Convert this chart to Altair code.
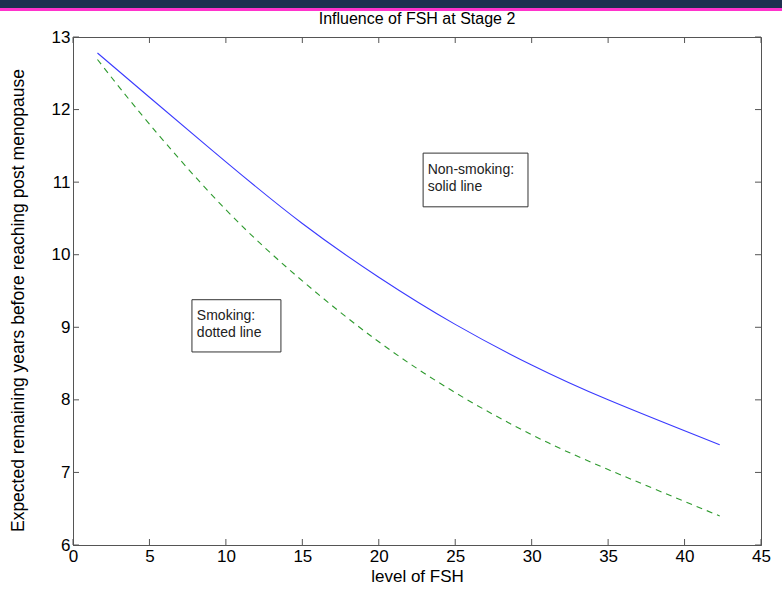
import altair as alt
import pandas as pd

# Data
fsh_x = [1.6, 5, 10, 15, 20, 25, 30, 35, 42.3]
nonsmoking = [12.78, 12.17, 11.28, 10.43, 9.69, 9.04, 8.48, 8.00, 7.38]
smoking = [12.69, 11.80, 10.62, 9.64, 8.80, 8.10, 7.52, 7.04, 6.40]
x_ticks = [0, 5, 10, 15, 20, 25, 30, 35, 40, 45]
y_ticks = [6, 7, 8, 9, 10, 11, 12, 13]

W, H = 688, 508
FONT = "Liberation Sans"

xs = alt.Scale(domain=[0, 45], nice=False, zero=False)
ys = alt.Scale(domain=[6, 13], nice=False, zero=False)

df_ns = pd.DataFrame({"x": fsh_x, "y": nonsmoking})
df_s = pd.DataFrame({"x": fsh_x, "y": smoking})

base_x = alt.X("x:Q", scale=xs, axis=alt.Axis(
    values=x_ticks, format="d", title="level of FSH", tickSize=0, labelPadding=3,
    labelFontSize=17, titleFontSize=17, titlePadding=4, labelFont=FONT, titleFont=FONT,
    labelColor="black", titleColor="black", titleFontWeight="normal",
    domainColor="#555555", grid=False, labelFlush=False))
base_y = alt.Y("y:Q", scale=ys, axis=alt.Axis(
    values=y_ticks, format="d", title="Expected remaining years before reaching post menopause",
    tickSize=0, labelPadding=3, labelFontSize=17, titleFontSize=17.5, titlePadding=24,
    titleY=263,
    labelFont=FONT, titleFont=FONT, labelColor="black", titleColor="black",
    titleFontWeight="normal", domainColor="#555555", grid=False, labelFlush=False))

line_ns = alt.Chart(df_ns).mark_line(color="#3a3aff", strokeWidth=1.1, interpolate="natural").encode(
    x=base_x, y=base_y)
line_s = alt.Chart(df_s).mark_line(color="#2e9a2e", strokeWidth=1.1, strokeDash=[6, 5],
                                   interpolate="natural").encode(
    x=alt.X("x:Q", scale=xs), y=alt.Y("y:Q", scale=ys))

# Inward tick marks on all four sides
tx = pd.DataFrame({"t": x_ticks})
ty = pd.DataFrame({"t": y_ticks})
tick_col = "#555555"
tb = alt.Chart(tx).mark_rule(color=tick_col).encode(
    x=alt.X("t:Q", scale=xs), y=alt.value(H), y2=alt.value(H - 6))
tt = alt.Chart(tx).mark_rule(color=tick_col).encode(
    x=alt.X("t:Q", scale=xs), y=alt.value(0), y2=alt.value(6))
tl = alt.Chart(ty).mark_rule(color=tick_col).encode(
    y=alt.Y("t:Q", scale=ys), x=alt.value(0), x2=alt.value(6))
tr = alt.Chart(ty).mark_rule(color=tick_col).encode(
    y=alt.Y("t:Q", scale=ys), x=alt.value(W), x2=alt.value(W - 6))

# Annotation boxes
boxes = pd.DataFrame({
    "x1": [22.9, 7.78], "x2": [29.76, 13.6],
    "y1": [11.40, 9.38], "y2": [10.66, 8.66]})
box = alt.Chart(boxes).mark_rect(fill="white", stroke="#333333", strokeWidth=1).encode(
    x=alt.X("x1:Q", scale=xs), x2="x2:Q", y=alt.Y("y1:Q", scale=ys), y2="y2:Q")

labels = pd.DataFrame({
    "x": [23.2, 23.2, 8.1, 8.1],
    "y": [11.17, 10.93, 9.15, 8.92],
    "text": ["Non-smoking:", "solid line", "Smoking:", "dotted line"]})
txt = alt.Chart(labels).mark_text(align="left", baseline="middle", font=FONT, fontSize=14,
                                  color="#222222").encode(
    x=alt.X("x:Q", scale=xs), y=alt.Y("y:Q", scale=ys), text="text:N")

# Slide banner at the top
banner = alt.Chart(pd.DataFrame({"a": [0]})).mark_rect(color="#1e3050", clip=False).encode(
    x=alt.value(-73), x2=alt.value(W + 21), y=alt.value(-37), y2=alt.value(-29))
pink = alt.Chart(pd.DataFrame({"a": [0]})).mark_rect(color="#ff33cc", clip=False).encode(
    x=alt.value(-73), x2=alt.value(W + 21), y=alt.value(-29), y2=alt.value(-26))

title = alt.Chart(pd.DataFrame({"t": ["Influence of FSH at Stage 2"]})).mark_text(
    font=FONT, fontSize=16, color="black", baseline="middle", align="center").encode(
    x=alt.value(344), y=alt.value(-18), text="t:N")

chart = alt.layer(line_ns, line_s, tb, tt, tl, tr, box, txt, banner, pink, title).properties(
    width=W, height=H,
    padding={"left": 73, "top": 37, "right": 21, "bottom": 51},
    autosize=alt.AutoSizeParams(type="none"),
    background="white",
).configure_view(stroke="#555555", strokeWidth=1)

chart.save("out.html", embed_options={"renderer": "svg", "actions": False})
